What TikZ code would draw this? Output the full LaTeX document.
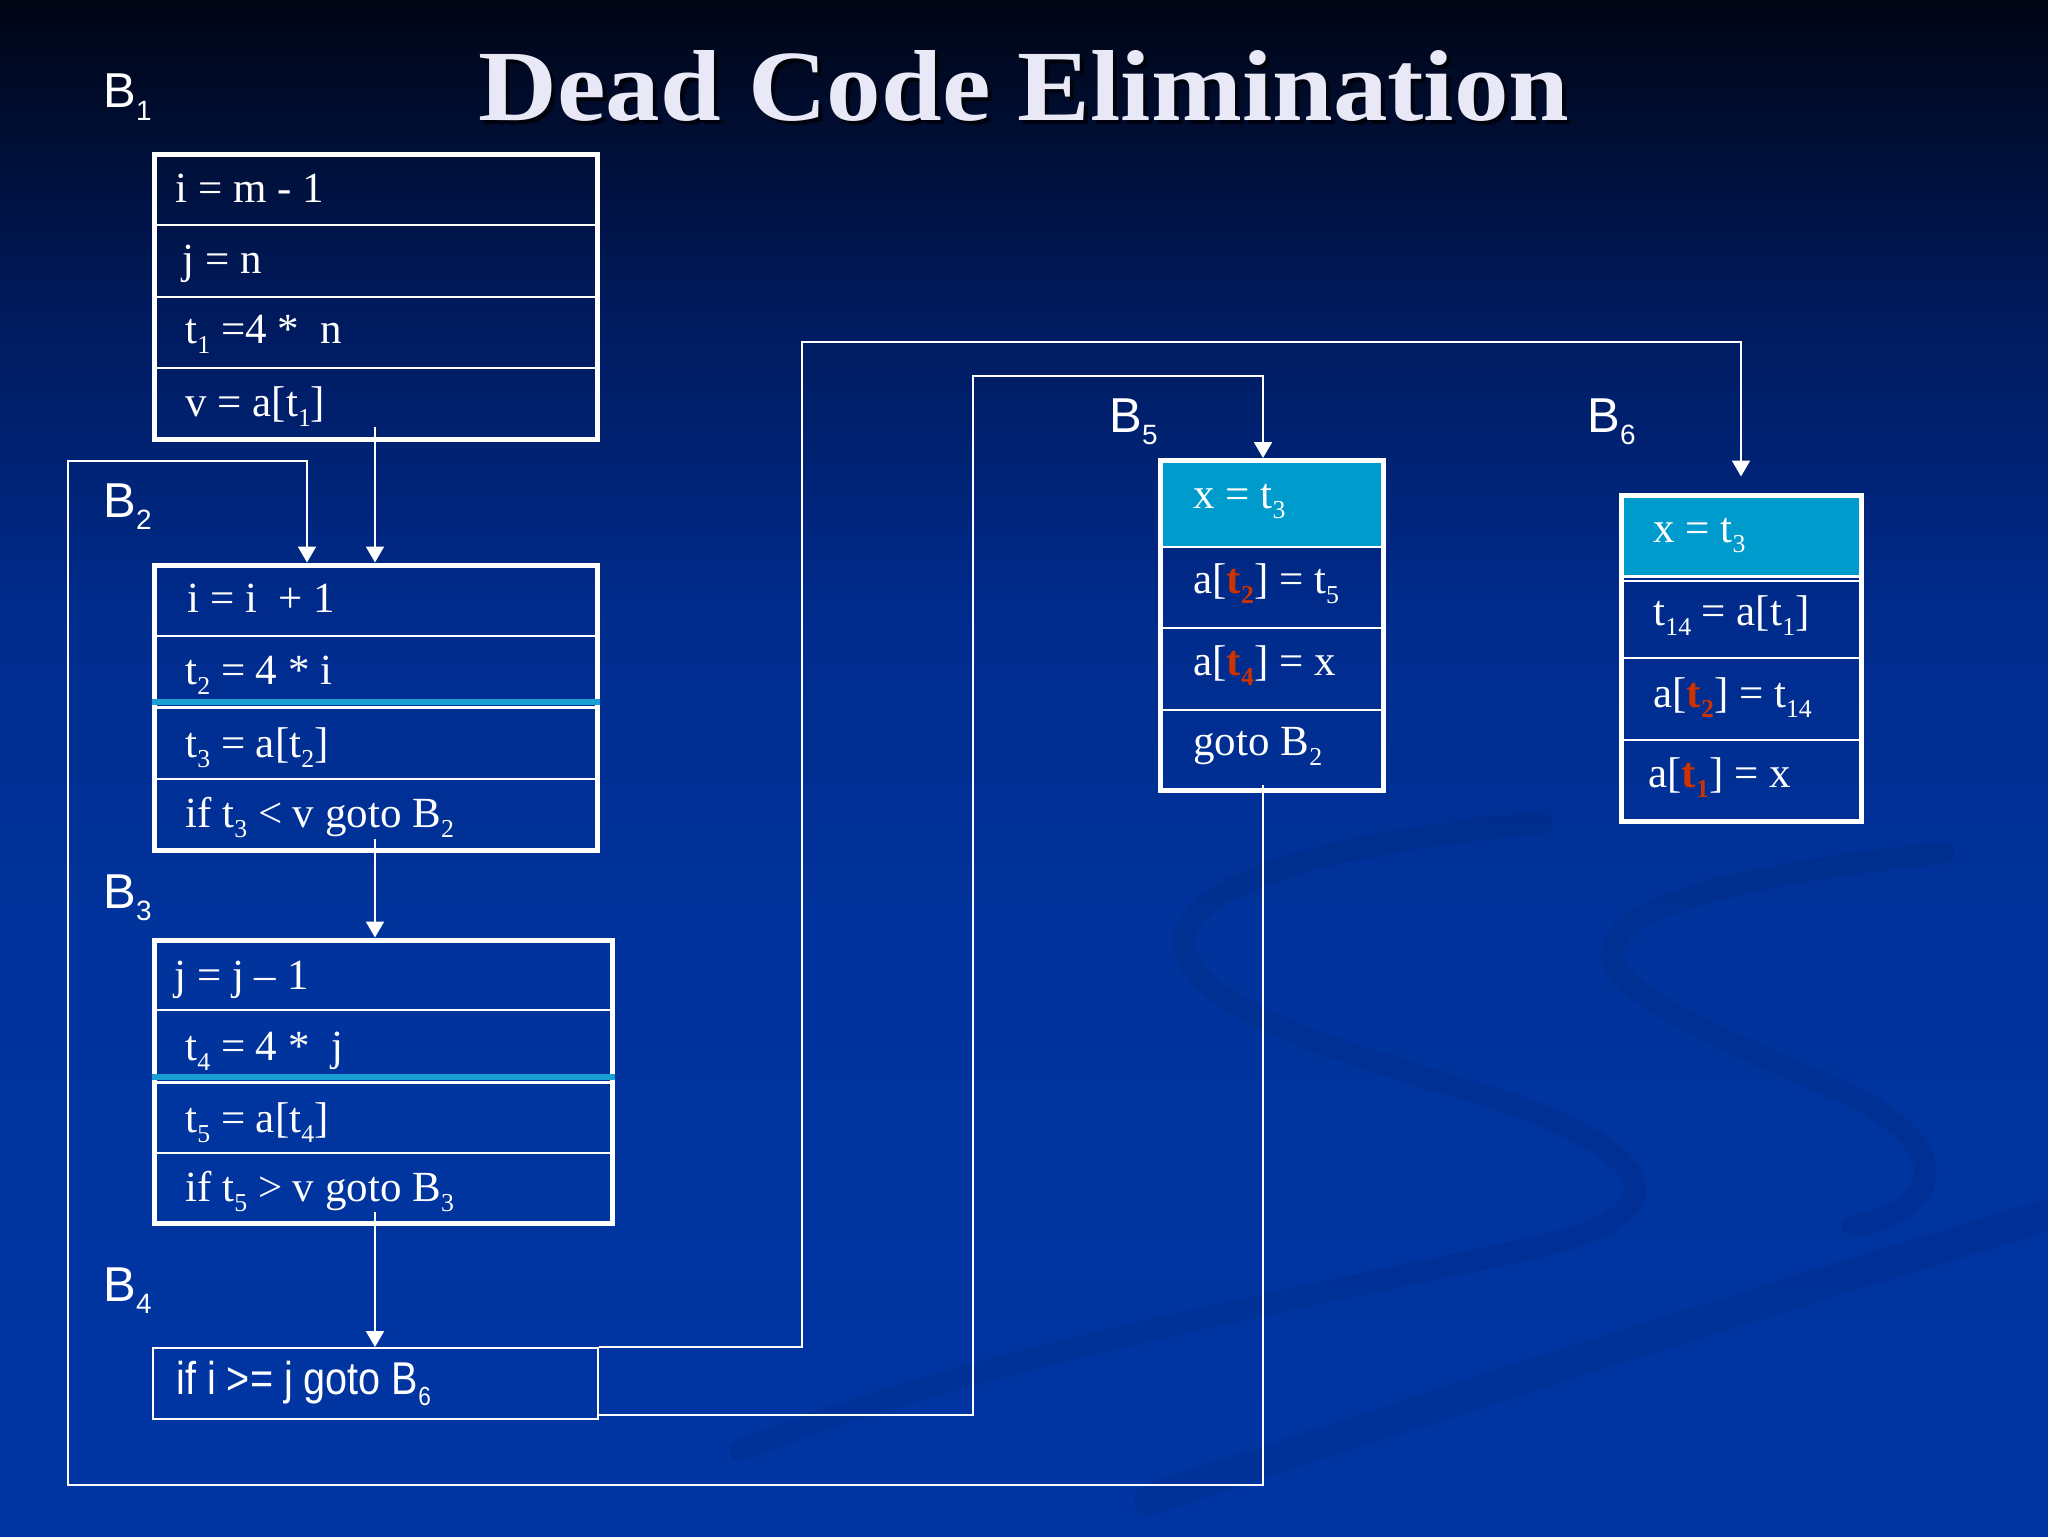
\documentclass[tikz,border=0pt]{standalone}
\usepackage{fontspec}
\usepackage{graphicx}
\setmainfont{Liberation Serif}
\newfontfamily\labelfont{Liberation Sans}
\newfontfamily\narrowfont[FakeStretch=0.86]{Liberation Sans}
\newfontfamily\titlefont{Liberation Serif}
\usetikzlibrary{arrows.meta,calc}
\definecolor{titlewhite}{RGB}{232,232,246}
\definecolor{rowcyan}{RGB}{0,155,205}
\definecolor{lineblue}{RGB}{24,160,210}
\definecolor{deadred}{RGB}{204,51,0}
\pgfdeclareverticalshading{slidebg}{100bp}{rgb(0bp)=(0,0.21,0.64); rgb(25bp)=(0,0.21,0.64); rgb(45bp)=(0,0.2,0.61); rgb(55bp)=(0,0.17,0.55); rgb(65bp)=(0,0.1,0.36); rgb(75bp)=(0,0.02,0.08); rgb(100bp)=(0,0.02,0.08)}
\newcommand{\sbs}[1]{\raisebox{-0.25em}{\scalebox{0.6}{#1}}}
\newcommand{\lsb}[1]{\raisebox{-0.25em}{\scalebox{0.57}{#1}}}
\newcommand{\rt}[1]{\textcolor{deadred}{\textbf{t}\sbs{\textbf{#1}}}}

\begin{document}
\begin{tikzpicture}[x=0.5pt, y=-0.5pt,
  block/.style={draw=white, line width=2.5pt, inner sep=0pt},
  rowline/.style={draw=white, line width=1.3pt},
  cyanline/.style={draw=lineblue, line width=2.6pt},
  code/.style={anchor=base west, inner sep=0pt, text=white, font=\fontsize{21.5pt}{25pt}\selectfont},
  blabel/.style={anchor=base west, inner sep=0pt, text=white, font=\labelfont\fontsize{24.5pt}{28pt}\selectfont},
  flow/.style={draw=white, line width=1pt, -{Triangle[width=9pt,length=8pt]}},
  swoosh/.style={draw=black, opacity=0.06, line cap=round}]
\shade[shading=slidebg] (0,0) rectangle (2048,1536);
\useasboundingbox (0,0) rectangle (2048,1536);

\draw[swoosh, line width=11pt] (1541,823) .. controls (1350,840) and (1180,880) .. (1184,945) .. controls (1190,1000) and (1300,1040) .. (1450,1085) .. controls (1650,1140) and (1700,1210) .. (1541,1246) .. controls (1300,1300) and (1000,1350) .. (740,1450);
\draw[swoosh, line width=11pt] (1943,853) .. controls (1780,870) and (1610,900) .. (1612,955) .. controls (1615,1000) and (1750,1050) .. (1850,1095) .. controls (1960,1150) and (1940,1210) .. (1853,1226);
\draw[swoosh, line width=16pt] (2048,1215) .. controls (1700,1320) and (1450,1400) .. (1150,1500);

\node[anchor=base west, inner sep=0pt, text=black, opacity=0.7] (titleshadow) at (482,124) {\resizebox{545.5pt}{35pt}{\titlefont\bfseries Dead Code Elimination}};
\node[anchor=base west, inner sep=0pt, text=titlewhite] (title) at (478,120) {\resizebox{545.5pt}{35pt}{\titlefont\bfseries Dead Code Elimination}};

\fill[rowcyan] (1160,460) rectangle (1383,546);
\fill[rowcyan] (1621,495) rectangle (1861,576);

\node[block, minimum width=221.5pt, minimum height=142.5pt] (b1) at (375.5,296.5) {};
\node[block, minimum width=221.5pt, minimum height=142.5pt] (b2) at (375.5,707.5) {};
\node[block, minimum width=229pt, minimum height=141.5pt] (b3) at (383,1081.5) {};
\node[block, line width=1pt, minimum width=222.5pt, minimum height=35.5pt] (b4) at (375.5,1383.5) {};
\node[block, minimum width=111.5pt, minimum height=165pt] (b5) at (1271.5,625) {};
\node[block, minimum width=120pt, minimum height=163pt] (b6) at (1741,658) {};

\draw[rowline] (b1.west |- 0,225) -- (b1.east |- 0,225);
\draw[rowline] (b1.west |- 0,297) -- (b1.east |- 0,297);
\draw[rowline] (b1.west |- 0,368) -- (b1.east |- 0,368);
\draw[rowline] (b2.west |- 0,636) -- (b2.east |- 0,636);
\draw[cyanline] (b2.west |- 0,702) -- (b2.east |- 0,702);
\draw[rowline] (b2.west |- 0,707.5) -- (b2.east |- 0,707.5);
\draw[rowline] (b2.west |- 0,779) -- (b2.east |- 0,779);
\draw[rowline] (b3.west |- 0,1010) -- (b3.east |- 0,1010);
\draw[cyanline] (b3.west |- 0,1077) -- (b3.east |- 0,1077);
\draw[rowline] (b3.west |- 0,1082.5) -- (b3.east |- 0,1082.5);
\draw[rowline] (b3.west |- 0,1153) -- (b3.east |- 0,1153);
\draw[rowline] (b5.west |- 0,547) -- (b5.east |- 0,547);
\draw[rowline] (b5.west |- 0,628) -- (b5.east |- 0,628);
\draw[rowline] (b5.west |- 0,710) -- (b5.east |- 0,710);
\draw[rowline] (b6.west |- 0,576.5) -- (b6.east |- 0,576.5);
\draw[rowline] (b6.west |- 0,581) -- (b6.east |- 0,581);
\draw[rowline] (b6.west |- 0,658) -- (b6.east |- 0,658);
\draw[rowline] (b6.west |- 0,740) -- (b6.east |- 0,740);

\node[blabel] (lb1) at (103,108) {B\lsb{1}};
\node[blabel] (lb2) at (103,517) {B\lsb{2}};
\node[blabel] (lb3) at (103,908) {B\lsb{3}};
\node[blabel] (lb4) at (103,1301) {B\lsb{4}};
\node[blabel] (lb5) at (1109,432) {B\lsb{5}};
\node[blabel] (lb6) at (1587,432) {B\lsb{6}};

\node[code] (b1s1) at (175,202) {i = m - 1};
\node[code] (b1s2) at (182,273) {j = n};
\node[code] (b1s3) at (185,343) {t\sbs{1} =4 *\ \ n};
\node[code] (b1s4) at (185,416) {v = a[t\sbs{1}]};

\node[code] (b2s1) at (187,612) {i = i \ + 1};
\node[code] (b2s2) at (185,684) {t\sbs{2} = 4 * i};
\node[code] (b2s3) at (185,757) {t\sbs{3} = a[t\sbs{2}]};
\node[code] (b2s4) at (185,827) {if t\sbs{3} < v goto B\sbs{2}};

\node[code] (b3s1) at (174,989) {j = j – 1};
\node[code] (b3s2) at (185,1060) {t\sbs{4} = 4 *\ \ j};
\node[code] (b3s3) at (185,1132) {t\sbs{5} = a[t\sbs{4}]};
\node[code] (b3s4) at (185,1201) {if t\sbs{5} > v goto B\sbs{3}};

\node[code, font=\narrowfont\fontsize{23pt}{26pt}\selectfont] (b4s1) at (176,1394) {if i >= j goto B\lsb{6}};

\node[code] (b5s1) at (1193,508) {x = t\sbs{3}};
\node[code] (b5s2) at (1193,593) {a[\rt{2}] = t\sbs{5}};
\node[code] (b5s3) at (1193,675) {a[\rt{4}] = x};
\node[code] (b5s4) at (1193,755) {goto B\sbs{2}};

\node[code] (b6s1) at (1653,542) {x = t\sbs{3}};
\node[code] (b6s2) at (1653,625) {t\sbs{14} = a[t\sbs{1}]};
\node[code] (b6s3) at (1653,707) {a[\rt{2}] = t\sbs{14}};
\node[code] (b6s4) at (1648,787) {a[\rt{1}] = x};

\coordinate (b1out) at (375,427);
\coordinate (b2out) at (375,839);
\coordinate (b3out) at (375,1212);
\coordinate (b5out) at (1263,785);
\coordinate (up6) at (802,342);
\coordinate (up5) at (973,376);
\coordinate (b5in) at (1263,458);
\coordinate (low) at (68,1485);
\coordinate (back2) at (307,461);

\draw[flow] (b1out) -- (b1out |- b2.north);
\draw[flow] (b2out) -- (b2out |- b3.north);
\draw[flow] (b3out) -- (b3out |- b4.north);
\draw[flow] (b4.north east) -| (up6) -| ([yshift=8pt]b6.north);
\draw[flow] ([yshift=2.5pt]b4.south east) -| (up5) -| (b5in);
\draw[flow] (b5out) |- (low) |- (back2) -- (back2 |- b2.north);
\end{tikzpicture}
\end{document}
